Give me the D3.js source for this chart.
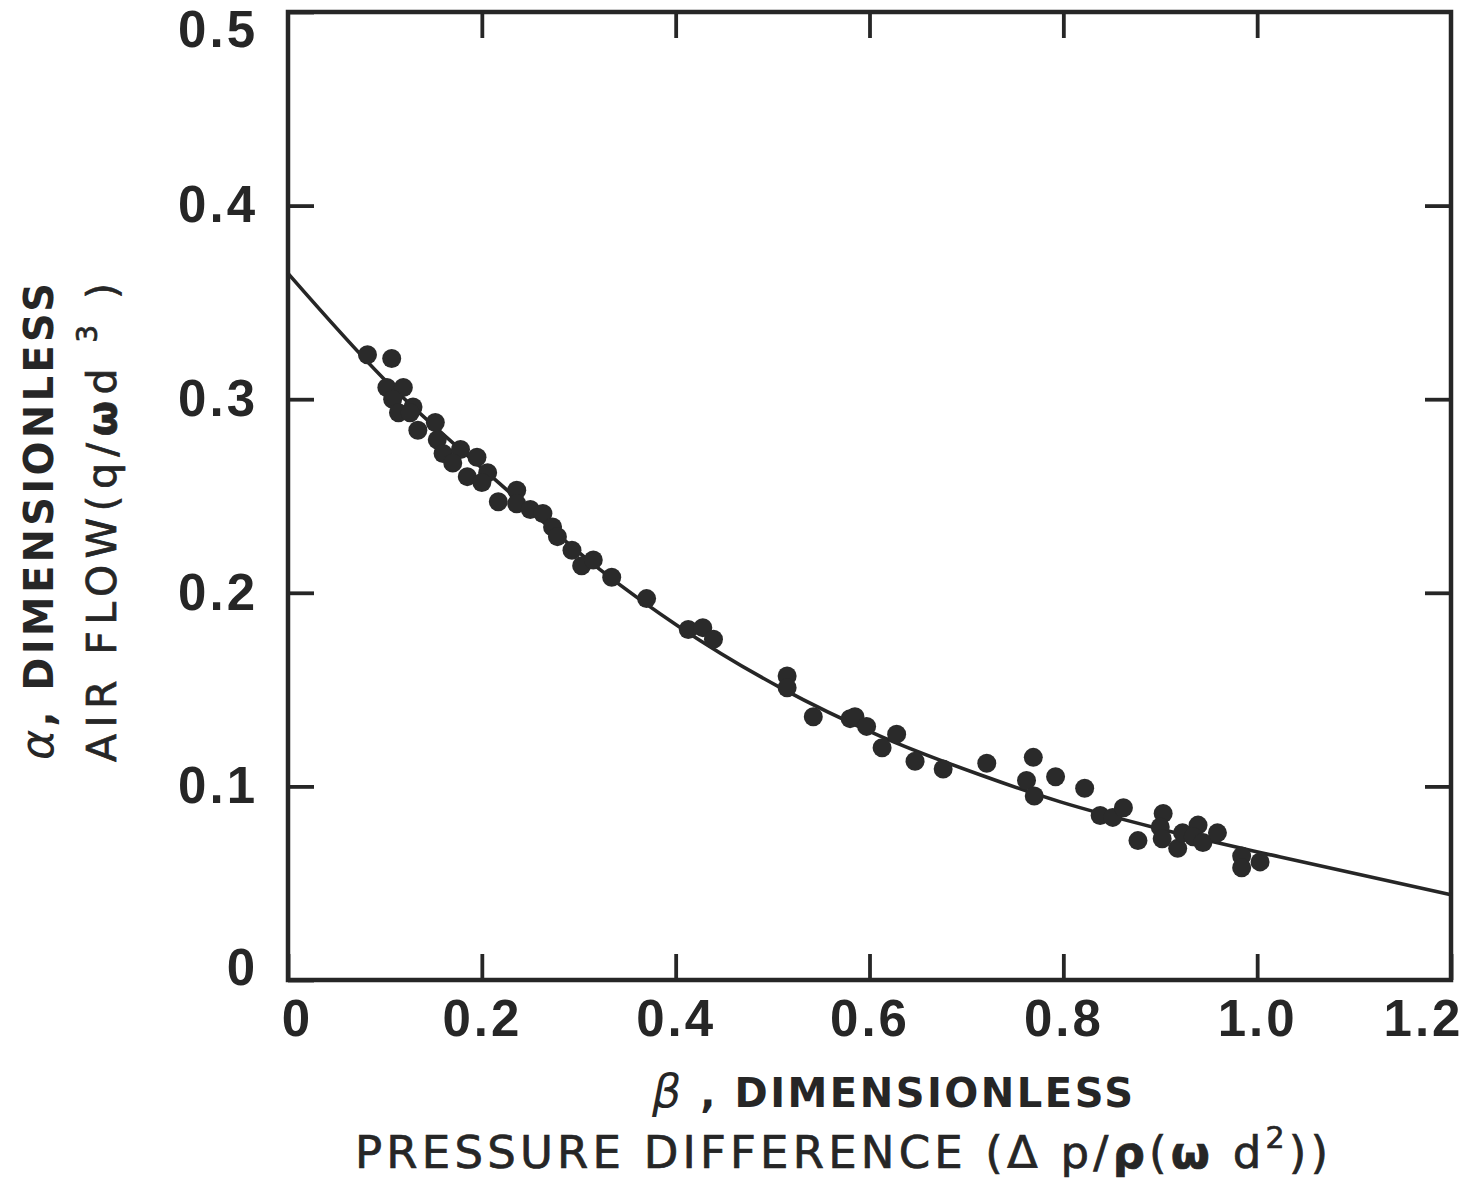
<!DOCTYPE html>
<html>
<head>
<meta charset="utf-8">
<script src="https://cdn.jsdelivr.net/npm/d3@7"></script>
<style>
  html, body { margin: 0; padding: 0; background: #ffffff; }
  svg { display: block; }
</style>
</head>
<body>
<script>
// ---------- data ----------
const xTickValues = [0, 0.2, 0.4, 0.6, 0.8, 1.0, 1.2];
const xTickLabels = ["0", "0.2", "0.4", "0.6", "0.8", "1.0", "1.2"];
const yTickValues = [0, 0.1, 0.2, 0.3, 0.4, 0.5];
const yTickLabels = ["0", "0.1", "0.2", "0.3", "0.4", "0.5"];

// measured points: beta (dimensionless pressure difference)
const betaValues = [
  0.082, 0.107, 0.102, 0.119, 0.108, 0.129, 0.114, 0.126, 0.134, 0.152,
  0.154, 0.160, 0.178, 0.195, 0.170, 0.185, 0.206, 0.200, 0.217, 0.236,
  0.236, 0.250, 0.263, 0.273, 0.278, 0.293, 0.303, 0.315, 0.334, 0.370,
  0.413, 0.428, 0.439, 0.515, 0.515, 0.542, 0.580, 0.585, 0.597, 0.613,
  0.628, 0.647, 0.676, 0.721, 0.762, 0.769, 0.770, 0.792, 0.822, 0.838,
  0.851, 0.862, 0.877, 0.903, 0.900, 0.902, 0.918, 0.923, 0.939, 0.934,
  0.944, 0.959, 0.984, 0.984, 1.003
];
// measured points: alpha (dimensionless air flow)
const alphaValues = [
  0.323, 0.321, 0.306, 0.306, 0.300, 0.296, 0.293, 0.293, 0.284, 0.288,
  0.279, 0.272, 0.274, 0.270, 0.267, 0.260, 0.262, 0.257, 0.247, 0.253,
  0.246, 0.243, 0.241, 0.234, 0.229, 0.222, 0.214, 0.217, 0.208, 0.197,
  0.181, 0.182, 0.176, 0.157, 0.151, 0.136, 0.135, 0.136, 0.131, 0.120,
  0.127, 0.113, 0.109, 0.112, 0.103, 0.115, 0.095, 0.105, 0.099, 0.085,
  0.084, 0.089, 0.072, 0.086, 0.079, 0.073, 0.068, 0.076, 0.080, 0.074,
  0.071, 0.076, 0.064, 0.058, 0.061
];

// fitted curve
const curveBeta  = [0, 0.098, 0.217, 0.322, 0.405, 0.508, 0.611, 0.714, 0.797, 0.900, 1.024, 1.200];
const curveAlpha = [0.365, 0.311, 0.257, 0.212, 0.182, 0.151, 0.126, 0.106, 0.092, 0.078, 0.0635, 0.044];

// ---------- drawing ----------
const W = 1466, H = 1188;
const ink = "#262626";
const tickFont = "'Liberation Sans', Arial, Helvetica, sans-serif";
const titleFont = "'DejaVu Sans', Verdana, sans-serif";

const svg = d3.select("body").append("svg")
  .attr("width", W).attr("height", H)
  .attr("viewBox", `0 0 ${W} ${H}`);

svg.append("rect").attr("width", W).attr("height", H).attr("fill", "#ffffff");

const x = d3.scaleLinear().domain([0, 1.2]).range([288, 1451]);
const y = d3.scaleLinear().domain([0, 0.5]).range([980, 12]);

const TICK = 26;

// bottom axis (with labels)
const gx = svg.append("g").attr("transform", `translate(0,${y(0)})`)
  .call(d3.axisBottom(x).tickValues(xTickValues)
    .tickFormat((d, i) => xTickLabels[i]).tickSize(-TICK).tickPadding(20));
// left axis (with labels)
const gy = svg.append("g").attr("transform", `translate(${x(0)},0)`)
  .call(d3.axisLeft(y).tickValues(yTickValues)
    .tickFormat((d, i) => yTickLabels[i]).tickSize(-TICK).tickPadding(30));
// top and right axes (ticks only)
const gt = svg.append("g").attr("transform", `translate(0,${y(0.5)})`)
  .call(d3.axisTop(x).tickValues(xTickValues.slice(1, -1)).tickFormat("").tickSize(-TICK));
const gr = svg.append("g").attr("transform", `translate(${x(1.2)},0)`)
  .call(d3.axisRight(y).tickValues(yTickValues.slice(1, -1)).tickFormat("").tickSize(-TICK));

[gx, gy, gt, gr].forEach(g => {
  g.select(".domain").remove();
  g.selectAll(".tick line").attr("stroke", ink).attr("stroke-width", 3.8);
});

gx.selectAll(".tick text")
  .style("font-family", tickFont).style("font-size", "51px").style("font-weight", "bold")
  .style("letter-spacing", "3px").attr("fill", ink)
  .attr("dx", d => d === 0 ? 9 : (d === 1.2 ? -28 : 0));
gy.selectAll(".tick text")
  .style("font-family", tickFont).style("font-size", "51px").style("font-weight", "bold")
  .style("letter-spacing", "3px").attr("fill", ink)
  .attr("dy", d => d === 0.5 ? "0.68em" : (d === 0 ? "0.08em" : "0.32em"));

// frame
svg.append("rect")
  .attr("x", x(0)).attr("y", y(0.5))
  .attr("width", x(1.2) - x(0)).attr("height", y(0) - y(0.5))
  .attr("fill", "none").attr("stroke", ink).attr("stroke-width", 4.5);

// fitted curve
const curvePts = curveBeta.map((b, i) => [b, curveAlpha[i]]);
svg.append("path")
  .datum(curvePts)
  .attr("fill", "none").attr("stroke", ink).attr("stroke-width", 3.6)
  .attr("d", d3.line().x(d => x(d[0])).y(d => y(d[1])).curve(d3.curveMonotoneX));

// data points
const pts = betaValues.map((b, i) => ({ b, a: alphaValues[i] }));
svg.append("g").selectAll("circle").data(pts).join("circle")
  .attr("cx", d => x(d.b)).attr("cy", d => y(d.a))
  .attr("r", 9.5).attr("fill", "#2a2a2a");

// helper for title text
function titleText(sel, size, weight) {
  return sel.style("font-family", titleFont).style("font-size", size + "px")
    .style("font-weight", weight).attr("fill", ink);
}

// x-axis title
const xt1 = titleText(svg.append("text").attr("x", 652).attr("y", 1107), 40, "bold")
  .attr("textLength", 481).attr("lengthAdjust", "spacing");
xt1.append("tspan").text("β").style("font-style", "italic")
  .style("font-weight", "normal").style("font-size", "46px");
xt1.append("tspan").text(" , DIMENSIONLESS");

const xt2 = titleText(svg.append("text").attr("x", 355).attr("y", 1168), 45, "normal")
  .attr("stroke", ink).attr("stroke-width", 0.7)
  .attr("textLength", 973).attr("lengthAdjust", "spacing");
xt2.append("tspan").text("PRESSURE DIFFERENCE (Δ p/");
xt2.append("tspan").text("ρ").style("font-weight", "bold");
xt2.append("tspan").text("(");
xt2.append("tspan").text("ω").style("font-weight", "bold");
xt2.append("tspan").text(" d");
xt2.append("tspan").text("2").style("font-size", "30px").attr("dy", -20);
xt2.append("tspan").text("))").attr("dy", 20);

// y-axis title (rotated)
const yt1 = titleText(svg.append("text").attr("transform", "translate(53,760) rotate(-90)"), 40, "bold")
  .attr("textLength", 477).attr("lengthAdjust", "spacing");
yt1.append("tspan").text("α").style("font-style", "italic")
  .style("font-weight", "normal").style("font-size", "46px");
yt1.append("tspan").text(", DIMENSIONLESS");

const yt2 = titleText(svg.append("text").attr("transform", "translate(116,762) rotate(-90)"), 41, "normal")
  .attr("stroke", ink).attr("stroke-width", 0.7)
  .attr("textLength", 479).attr("lengthAdjust", "spacing");
yt2.append("tspan").text("AIR FLOW(q/");
yt2.append("tspan").text("ω").style("font-weight", "bold");
yt2.append("tspan").text("d ");
yt2.append("tspan").text("3").style("font-size", "28px").attr("dy", -19);
yt2.append("tspan").text(" )").attr("dy", 19);
</script>
</body>
</html>
